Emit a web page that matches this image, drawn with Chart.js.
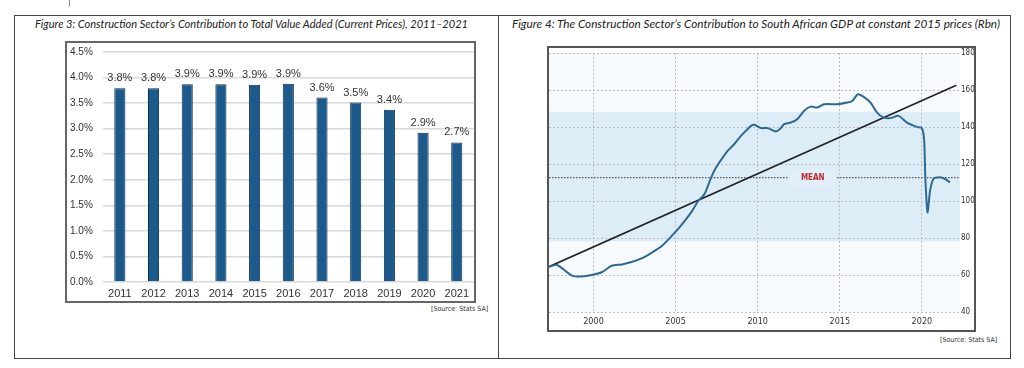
<!DOCTYPE html>
<html>
<head>
<meta charset="utf-8">
<script src="https://cdn.jsdelivr.net/npm/chart.js@4"></script>
<style>
  body { margin: 0; width: 1024px; height: 368px; background: #fff; position: relative; overflow: hidden; }
  .abs { position: absolute; }
  .frame { left: 14px; top: 15px; width: 997px; height: 344px; border: 1px solid #444; box-sizing: border-box; }
  .divider { left: 498px; top: 15px; width: 1px; height: 344px; background: #444; }
  .tick { left: 69px; top: 0; width: 1px; height: 6px; background: #888; }
  .title { font-family: Lato, "Open Sans", sans-serif; font-style: italic; font-size: 12px; color: #222; white-space: nowrap; transform-origin: 0 50%; }
  .box { box-sizing: border-box; border: 2px solid #666; }
  .src { font-family: "DejaVu Sans Condensed", sans-serif; font-size: 7px; color: #333; white-space: nowrap; }
</style>
</head>
<body>
<div class="abs frame"></div>
<div class="abs divider"></div>
<div class="abs tick"></div>

<div class="abs title" style="left:35px; top:16px;" data-w="433">Figure 3: Construction Sector’s Contribution to Total Value Added (Current Prices), 2011–2021</div>
<div class="abs title" style="left:512px; top:16px;" data-w="488">Figure 4: The Construction Sector’s Contribution to South African GDP at constant 2015 prices (Rbn)</div>

<div class="abs box" style="left:65px; top:41px; width:411px; height:262px;">
  <canvas id="bars" width="407" height="258"></canvas>
</div>
<div class="abs src" style="left:431px; top:305px;">[Source: Stats SA]</div>

<div class="abs box" style="left:547px; top:46px; width:429px; height:286px; border-color:#555;">
  <canvas id="gdp" width="425" height="282"></canvas>
</div>
<div class="abs src" style="left:940px; top:336px;">[Source: Stats SA]</div>

<script>
// Figure 3 - share of total value added (%)
const barYears = ['2011', '2012', '2013', '2014', '2015', '2016', '2017', '2018', '2019', '2020', '2021'];
const barShares = [3.79, 3.79, 3.87, 3.87, 3.86, 3.88, 3.61, 3.51, 3.37, 2.92, 2.73];

// Figure 4 - construction GDP, constant 2015 prices (Rbn)
const gdpYears = [1997.29, 1997.78, 1998.69, 1999.29, 1999.9, 2000.5, 2001.11, 2001.72, 2002.32, 2002.93,
  2003.53, 2004.14, 2004.75, 2005.35, 2005.96, 2006.38, 2006.76, 2007.17, 2007.47, 2007.88,
  2008.18, 2008.58, 2008.99, 2009.29, 2009.59, 2009.79, 2010.2, 2010.61, 2011.11, 2011.41,
  2011.61, 2012.02, 2012.42, 2012.82, 2013.23, 2013.63, 2014.04, 2014.85, 2015.45, 2015.76,
  2016.1, 2016.46, 2016.87, 2017.27, 2017.67, 2018.08, 2018.58, 2019.09, 2019.69, 2020.0,
  2020.14, 2020.2, 2020.34, 2020.5, 2020.7, 2021.11, 2021.41, 2021.71];
const gdpValues = [64.5, 65.4, 59.7, 59.2, 60, 61.5, 65, 65.7, 67, 69,
  72, 75.5, 81, 87, 94, 100, 103.8, 112.8, 118.2, 123.6,
  127.2, 130.8, 135.3, 138, 140.6, 141.2, 139.4, 139.4, 137.6, 139.4,
  141.6, 142.4, 144.3, 148.7, 151, 150.5, 152.3, 152.3, 153.2, 154.1,
  157.7, 156.3, 153.2, 147.8, 145.1, 144.8, 146, 142.4, 140.1, 139.4,
  132.6, 114.6, 93.9, 105.6, 111.9, 112.8, 111.9, 110.1];
const trendYears = [1997.29, 2022.1];
const trendValues = [64.5, 162.6];
const meanValue = 112.6;
const bandRange = [78.2, 148.2];   // shaded range around the mean
const meanLabelSpan = [2011.88, 2014.83];
const xTickYears = [2000, 2005, 2010, 2015, 2020];

// squeeze the titles to the width they have in the figure
document.querySelectorAll('.title').forEach(el => {
  const w = el.getBoundingClientRect().width;
  el.style.transform = 'scaleX(' + (el.dataset.w / w) + ')';
});

const narrow = '"DejaVu Sans Condensed", "Liberation Sans", sans-serif';
const arial = '"Liberation Sans", Arial, sans-serif';

const barLabels = {
  id: 'barLabels',
  afterDatasetsDraw(chart) {
    const ctx = chart.ctx;
    const meta = chart.getDatasetMeta(0);
    ctx.save();
    ctx.font = '11px ' + arial;
    ctx.fillStyle = '#333';
    ctx.textAlign = 'center';
    ctx.textBaseline = 'middle';
    meta.data.forEach((bar, i) => {
      ctx.fillText(barShares[i].toFixed(1) + '%', bar.x, bar.y - 10);
    });
    ctx.restore();
  }
};

new Chart(document.getElementById('bars'), {
  type: 'bar',
  data: {
    labels: barYears,
    datasets: [{
      data: barShares,
      backgroundColor: '#1d5a8c',
      borderColor: '#0e2f4d',
      borderWidth: 1,
      barPercentage: 0.33,
      categoryPercentage: 1
    }]
  },
  options: {
    responsive: false,
    animation: false,
    layout: { padding: { left: 3, top: 9, right: 0, bottom: 0 } },
    plugins: { legend: { display: false }, tooltip: { enabled: false } },
    scales: {
      x: {
        grid: { display: false, drawTicks: false },
        border: { display: false },
        ticks: { color: '#333', font: { family: arial, size: 11 }, padding: 5, maxRotation: 0 },
        afterFit(s) { s.height = 19; }
      },
      y: {
        min: 0, max: 4.5,
        border: { display: false },
        grid: { color: '#d9d9d9', lineWidth: 1.5, drawTicks: false },
        ticks: {
          stepSize: 0.5, crossAlign: 'far', color: '#333',
          font: { family: arial, size: 10 },
          callback: v => v.toFixed(1) + '%'
        },
        afterFit(s) { s.width = 33; }
      }
    }
  },
  plugins: [barLabels]
});

const gdpDecor = {
  id: 'gdpDecor',
  beforeDraw(chart) {
    const { ctx, chartArea: a, scales: { y } } = chart;
    ctx.save();
    ctx.fillStyle = '#f6fafd';
    ctx.fillRect(a.left, a.top, a.right - a.left, a.bottom - a.top);
    const top = y.getPixelForValue(bandRange[1]);
    const bot = y.getPixelForValue(bandRange[0]);
    ctx.fillStyle = '#dcedf8';
    ctx.fillRect(a.left, top, a.right - a.left, bot - top);
    ctx.restore();
  },
  beforeDatasetsDraw(chart) {
    const { ctx, chartArea: a, scales: { x, y } } = chart;
    const my = y.getPixelForValue(meanValue);
    const l0 = x.getPixelForValue(meanLabelSpan[0]);
    const l1 = x.getPixelForValue(meanLabelSpan[1]);
    ctx.save();
    ctx.strokeStyle = '#555';
    ctx.lineWidth = 1.3;
    ctx.setLineDash([1.5, 1.5]);
    ctx.beginPath();
    ctx.moveTo(a.left, my); ctx.lineTo(l0, my);
    ctx.moveTo(l1, my); ctx.lineTo(a.right, my);
    ctx.stroke();
    ctx.fillStyle = '#e3eff8';
    ctx.fillRect(l0 + 2, my - 8, l1 - l0 - 4, 16);
    ctx.fillStyle = '#c0282d';
    ctx.font = 'bold 8px ' + narrow;
    ctx.textAlign = 'center';
    ctx.textBaseline = 'middle';
    ctx.fillText('MEAN', (l0 + l1) / 2, my + 0.5);
    ctx.restore();
  }
};

new Chart(document.getElementById('gdp'), {
  type: 'line',
  data: {
    datasets: [
      {
        data: gdpYears.map((yr, i) => ({ x: yr, y: gdpValues[i] })),
        borderColor: '#2f6892',
        borderWidth: 2,
        pointRadius: 0,
        tension: 0.25
      },
      {
        data: trendYears.map((yr, i) => ({ x: yr, y: trendValues[i] })),
        borderColor: '#222',
        borderWidth: 1.6,
        pointRadius: 0
      }
    ]
  },
  options: {
    responsive: false,
    animation: false,
    layout: { padding: { left: 0, top: 4, right: 0, bottom: 0 } },
    plugins: { legend: { display: false }, tooltip: { enabled: false } },
    scales: {
      x: {
        type: 'linear',
        min: 1997.29, max: 2022.32,
        border: { display: false, dash: [2, 2] },
        grid: { color: '#bdbdbd', lineWidth: 1, drawTicks: false },
        afterBuildTicks(s) { s.ticks = xTickYears.map(v => ({ value: v })); },
        ticks: { color: '#333', font: { family: narrow, size: 9, lineHeight: 1 }, padding: 5, maxRotation: 0, callback: v => String(v) },
        afterFit(s) { s.height = 18; }
      },
      y: {
        position: 'right',
        min: 40, max: 180,
        border: { display: false, dash: [2, 2] },
        grid: { color: '#bdbdbd', lineWidth: 1, drawTicks: false },
        ticks: { stepSize: 20, color: '#333', font: { family: narrow, size: 8, lineHeight: 1 }, padding: 1 },
        afterFit(s) { s.width = 14; }
      }
    }
  },
  plugins: [gdpDecor]
});
</script>
</body>
</html>
